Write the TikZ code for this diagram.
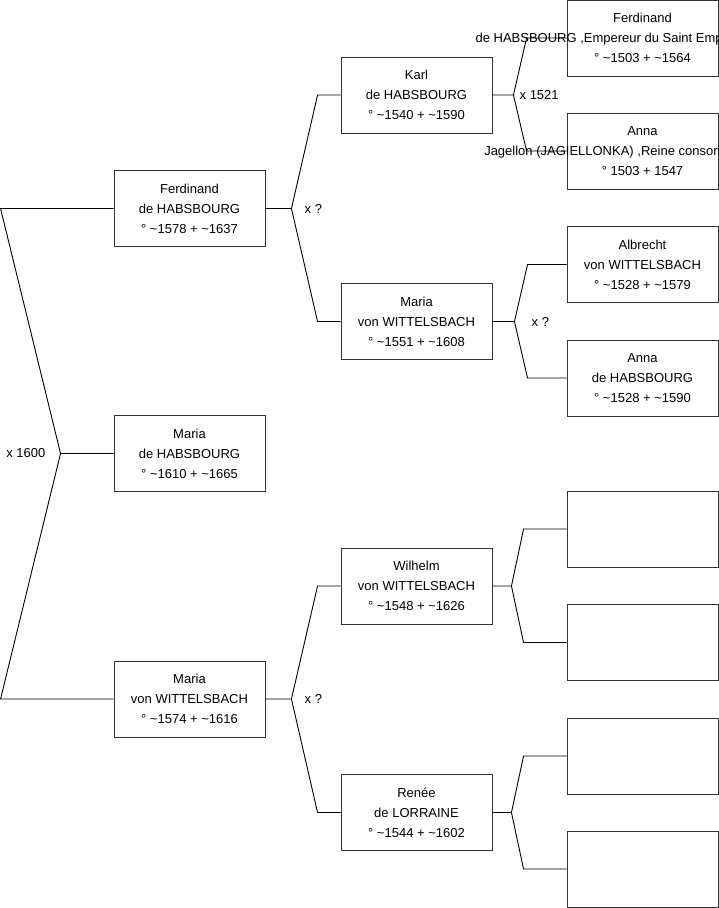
\documentclass[tikz,border=0pt]{standalone}
\usepackage{fontspec}
\setmainfont{Liberation Sans}
\usetikzlibrary{positioning}
\definecolor{boxline}{HTML}{333333}

\tikzset{
  person/.style={draw=boxline, line width=0.9pt, minimum width=151pt, minimum height=76pt,
    inner sep=0pt, align=center, font=\fontsize{13}{20}\selectfont},
  persontext/.style={align=center, inner sep=0pt, font=\fontsize{13}{20}\selectfont},
  union/.style={inner sep=0pt, font=\fontsize{13}{15}\selectfont},
  link/.style={line width=0.9pt},
}

\begin{document}
\begin{tikzpicture}[x=1pt, y=-1pt]
  \useasboundingbox (0,0) rectangle (719,908);
  \clip (0,0) rectangle (719,908);
  % generation 1
  \node[person] (maria) at (189.5,453.5)
    {Maria\\de HABSBOURG\\° \textasciitilde1610 + \textasciitilde1665};
  % generation 2
  \node[person] (ferdinand) at (189.5,208.5)
    {Ferdinand\\de HABSBOURG\\° \textasciitilde1578 + \textasciitilde1637};
  \node[person] (mariaW) at (189.5,699)
    {Maria\\von WITTELSBACH\\° \textasciitilde1574 + \textasciitilde1616};
  % generation 3
  \node[person] (karl) at (416.5,95)
    {Karl\\de HABSBOURG\\° \textasciitilde1540 + \textasciitilde1590};
  \node[person] (mariaW2) at (416.5,321.5)
    {Maria\\von WITTELSBACH\\° \textasciitilde1551 + \textasciitilde1608};
  \node[person] (wilhelm) at (416.5,586)
    {Wilhelm\\von WITTELSBACH\\° \textasciitilde1548 + \textasciitilde1626};
  \node[person] (renee) at (416.5,812.5)
    {Renée\\de LORRAINE\\° \textasciitilde1544 + \textasciitilde1602};
  % generation 4
  \node[person] (ferdI) at (642.5,38) {};
  \node[persontext] (ferdI-txt) at (ferdI)
    {Ferdinand\\de HABSBOURG ,Empereur du Saint Empire germanique\\° \textasciitilde1503 + \textasciitilde1564};
  \node[person] (annaJ) at (642.5,151) {};
  \node[persontext] (annaJ-txt) at (annaJ)
    {Anna\\Jagellon (JAGIELLONKA) ,Reine consort des Romains\\° 1503 + 1547};
  \node[person] (albrecht) at (642.5,264.5)
    {Albrecht\\von WITTELSBACH\\° \textasciitilde1528 + \textasciitilde1579};
  \node[person] (annaH) at (642.5,378)
    {Anna\\de HABSBOURG\\° \textasciitilde1528 + \textasciitilde1590};
  \node[person] (wil1) at (642.5,529) {};
  \node[person] (wil2) at (642.5,642.5) {};
  \node[person] (ren1) at (642.5,756) {};
  \node[person] (ren2) at (642.5,869) {};

  % parents of Maria
  \coordinate (f-maria) at ([xshift=-53]maria.west);
  \draw[link] (ferdinand.west) -- ++(-113,0) -- (f-maria) -- (maria.west);
  \draw[link] (mariaW.west) -- ++(-113,0) -- (f-maria);
  \node[union, left=15pt of f-maria] (u-maria) {x 1600};

  % parents of the others
  \foreach \kid/\dad/\mum/\fx/\bx in {ferdinand/karl/mariaW2/26/23, mariaW/wilhelm/renee/26/23,
      karl/ferdI/annaJ/21/40, mariaW2/albrecht/annaH/22/39,
      wilhelm/wil1/wil2/19/43, renee/ren1/ren2/19/43} {
    \coordinate (f-\kid) at ([xshift=\fx]\kid.east);
    \draw[link] (\kid.east) -- (f-\kid) -- ([xshift=-\bx]\dad.west) -- (\dad.west);
    \draw[link] (f-\kid) -- ([xshift=-\bx]\mum.west) -- (\mum.west);
  }
  \node[union, right=13pt of f-ferdinand] (u-ferdinand) {x ?};
  \node[union, right=13pt of f-mariaW] (u-mariaW) {x ?};
  \node[union, right=6pt of f-karl] (u-karl) {x 1521};
  \node[union, right=17pt of f-mariaW2] (u-mariaW2) {x ?};
\end{tikzpicture}
\end{document}
